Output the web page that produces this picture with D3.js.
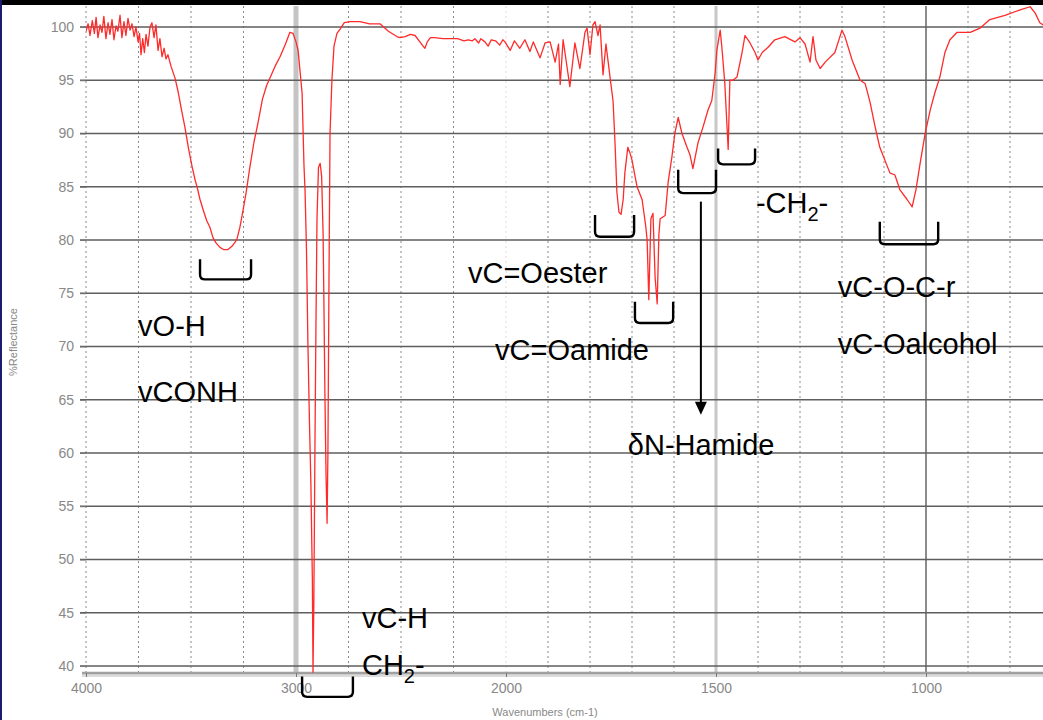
<!DOCTYPE html>
<head>
    <meta charset="utf-8">
    <script src="https://d3js.org/d3.v7.min.js"></script>
</head>

<body style="margin:0; background: white">
    <div id="my_dataviz"></div>

    <script>
        // spectrum: wavenumber (cm-1) and %Reflectance
        const wavenumber = [
            4000, 3990, 3981, 3970, 3960, 3952, 3943, 3933, 3924, 3915, 3905, 3895, 3886, 3876, 3867, 3857,
            3848, 3838, 3829, 3819, 3810, 3800, 3790, 3781, 3771, 3762, 3752, 3745, 3738, 3730, 3722, 3714,
            3705, 3695, 3686, 3676, 3667, 3657, 3648, 3638, 3628, 3619, 3610, 3595, 3576, 3560, 3545, 3529,
            3512, 3495, 3480, 3470, 3457, 3440, 3425, 3410, 3395, 3380, 3362, 3345, 3324, 3305, 3290, 3281,
            3267, 3252, 3238, 3220, 3200, 3181, 3160, 3140, 3124, 3100, 3076, 3050, 3029, 3014, 3000, 2990,
            2971, 2962, 2957, 2950, 2943, 2936, 2929, 2922, 2919, 2915, 2910, 2905, 2900, 2893, 2885, 2878,
            2871, 2867, 2862, 2857, 2852, 2848, 2843, 2838, 2829, 2819, 2805, 2790, 2770, 2743, 2720, 2695,
            2650, 2600, 2560, 2520, 2505, 2480, 2455, 2433, 2410, 2395, 2386, 2375, 2360, 2340, 2300, 2267,
            2230, 2200, 2180, 2160, 2148, 2130, 2120, 2100, 2085, 2070, 2050, 2030, 2015, 2005,
            1990, 1980, 1967, 1955, 1943, 1935, 1919, 1907, 1895, 1883, 1875, 1871, 1864, 1848, 1836, 1824,
            1812, 1807, 1800, 1793, 1788, 1781, 1776, 1769, 1762, 1752, 1745, 1740, 1736, 1731, 1726, 1721,
            1717, 1710, 1705, 1700, 1688, 1676, 1667, 1664, 1660, 1655, 1650, 1645, 1640, 1636, 1633, 1621,
            1614, 1605, 1598, 1590, 1581, 1569, 1562, 1555, 1543, 1531, 1519, 1510, 1502, 1498, 1490, 1486,
            1479, 1471, 1467, 1460, 1450, 1438, 1431, 1419, 1407, 1400, 1390, 1376, 1360, 1336, 1312, 1300,
            1288, 1276, 1269, 1262, 1252, 1240, 1217, 1200, 1193, 1176, 1157, 1145, 1133, 1121, 1110, 1086,
            1074, 1062, 1045, 1033, 1024, 1014, 1002, 990, 979, 967, 955, 943, 926, 895, 871, 848,
            812, 776, 752, 740, 729, 721
        ];
        const reflectance = [
            99.6, 100.3, 99.2, 100.6, 99.4, 100.9, 99.0, 100.2, 99.5, 101.0, 98.9, 100.4, 99.3, 100.7, 98.8, 100.1,
            99.6, 101.1, 99.0, 100.5, 99.2, 100.8, 99.7, 100.3, 99.1, 100.0, 98.6, 99.4, 97.4, 98.9, 97.6, 99.3,
            98.2, 100.0, 100.4, 99.0, 100.2, 97.8, 98.9, 97.2, 98.0, 97.0, 97.4, 96.3, 95.2, 93.8, 92.2, 90.6,
            88.6, 86.9, 85.6, 84.9, 83.8, 82.7, 81.8, 81.2, 80.2, 79.7, 79.3, 79.1, 79.1, 79.4, 79.8, 80.1,
            81.2, 82.8, 84.4, 86.8, 89.2, 91.0, 93.2, 94.5, 95.2, 96.3, 97.2, 98.4, 99.5, 99.4, 98.6, 97.8,
            93.8, 87.0, 84.7, 79.0, 70.0, 63.0, 57.0, 48.0, 39.4, 46.0, 60.0, 72.0, 82.0, 86.8, 87.2, 86.0,
            80.6, 74.0, 65.0, 58.0, 53.4, 60.0, 76.0, 90.0, 95.0, 98.2, 99.4, 99.8, 100.4, 100.5, 100.5, 100.5,
            100.3, 100.3, 99.6, 99.1, 99.0, 99.1, 99.3, 99.2, 98.6, 98.2, 98.0, 98.6, 99.0, 99.0, 98.9, 98.9,
            98.9, 98.7, 98.8, 98.7, 98.9, 98.5, 98.9, 98.6, 98.2, 98.8, 98.7, 98.3, 98.8, 98.6,
            97.8, 98.7, 98.0, 98.8, 97.7, 98.6, 97.1, 98.5, 98.6, 96.7, 98.4, 94.6, 98.8, 94.4, 98.5, 96.1,
            99.5, 99.9, 97.4, 100.2, 100.5, 99.2, 100.2, 95.5, 98.4, 95.2, 93.0, 88.7, 84.5, 82.6, 82.4, 83.8,
            86.3, 88.7, 88.2, 87.5, 85.0, 83.8, 81.2, 80.0, 74.4, 82.0, 82.5, 76.5, 74.0, 80.5, 82.0, 82.3,
            85.4, 87.8, 90.0, 91.5, 90.0, 88.7, 88.0, 86.7, 89.1, 90.6, 92.2, 93.1, 95.7, 97.8, 99.7, 98.1,
            94.7, 88.5, 95.0, 95.0, 95.3, 97.6, 99.2, 98.5, 97.6, 96.9, 97.6, 98.1, 98.8, 99.1, 98.6, 99.0,
            98.4, 96.7, 99.1, 96.9, 96.1, 96.7, 97.6, 99.7, 99.1, 96.9, 95.0, 94.7, 92.9, 90.6, 88.7, 86.3,
            86.1, 84.7, 83.8, 83.1, 84.7, 87.2, 90.0, 92.2, 93.8, 95.3, 97.6, 98.8, 99.5, 99.5, 99.9, 100.7,
            101.1, 101.6, 101.9, 101.3, 100.4, 100.2
        ];

        // axis ticks and grid
        const yTicks = [40, 45, 50, 55, 60, 65, 70, 75, 80, 85, 90, 95, 100];
        const xLabelTicks = [4000, 3000, 2000, 1500, 1000];
        const xDottedGrid = [4000, 3750, 3500, 3250, 2750, 2500, 2250,
            1900, 1800, 1700, 1600, 1400, 1300, 1200, 1100, 900, 800];

        // annotations (text at wavenumber / %R, "_" marks a subscript)
        const labelText = ["vO-H", "vCONH", "vC-H", "CH_2_-", "vC=Oester", "vC=Oamide",
            "\u03b4N-Hamide", "-CH_2_-", "vC-O-C-r", "vC-Oalcohol"];
        const labelWn = [3752, 3752, 2686, 2686, 2181, 2052, 1710, 1405, 1210, 1210];
        const labelR = [71.0, 64.8, 43.6, 39.15, 75.96, 68.73, 59.81, 82.54, 74.65, 69.3];

        // brackets under the bands
        const bracketFrom = [3457, 2971, 1788, 1693, 1590, 1495, 1110];
        const bracketTo = [3214, 2729, 1695, 1602, 1500, 1407, 971];
        const bracketTop = [78.2, 39.0, 82.35, 74.2, 86.6, 88.6, 81.7];
        const bracketBottom = [76.3, 37.1, 80.3, 72.2, 84.4, 87.1, 79.6];

        // arrow from the N-H bracket down to its label
        const arrowWn = 1536, arrowFrom = 83.6, arrowTo = 63.6;

        var W = 1043, H = 720;
        var svg = d3.select("#my_dataviz")
            .append("svg")
            .attr("width", W)
            .attr("height", H)
            .style("display", "block");

        var x = d3.scaleLinear().domain([4000, 2000, 720]).range([86, 506, 1043.6]);
        var y = d3.scaleLinear().domain([39.34, 101.97]).range([673, 6]);

        // frame bits of the screenshot
        svg.append("rect").attr("x", 0).attr("y", 0).attr("width", W).attr("height", 5).attr("fill", "#000");
        svg.append("rect").attr("x", 0).attr("y", 0).attr("width", 2).attr("height", H).attr("fill", "#1c1c6e");

        // dotted vertical grid
        svg.selectAll(".vgrid")
            .data(xDottedGrid)
            .enter().append("line")
            .attr("x1", d => x(d)).attr("x2", d => x(d))
            .attr("y1", 6).attr("y2", 673)
            .attr("stroke", "#8a8a8a")
            .attr("stroke-width", 1)
            .attr("stroke-dasharray", "2,3");

        // special verticals
        svg.append("line").attr("x1", x(2000)).attr("x2", x(2000)).attr("y1", 6).attr("y2", 673)
            .attr("stroke", "#e6d6dc").attr("stroke-dasharray", "2,3");
        svg.append("line").attr("x1", x(3000)).attr("x2", x(3000)).attr("y1", 6).attr("y2", 673)
            .attr("stroke", "#c4c4c4").attr("stroke-width", 5);
        svg.append("line").attr("x1", x(1500)).attr("x2", x(1500)).attr("y1", 6).attr("y2", 673)
            .attr("stroke", "#c8c8c8").attr("stroke-width", 3);
        svg.append("line").attr("x1", x(1000)).attr("x2", x(1000)).attr("y1", 6).attr("y2", 673)
            .attr("stroke", "#666").attr("stroke-width", 1.5);

        // horizontal grid
        svg.selectAll(".hgrid")
            .data(yTicks)
            .enter().append("line")
            .attr("x1", 80).attr("x2", W)
            .attr("y1", d => y(d)).attr("y2", d => y(d))
            .attr("stroke", "#5e5e5e")
            .attr("stroke-width", 1.6);

        // y axis labels
        var yAxis = svg.append("g")
            .attr("transform", "translate(86,0)")
            .call(d3.axisLeft(y).tickValues(yTicks).tickSize(6).tickPadding(6));
        yAxis.select(".domain").remove();
        yAxis.selectAll("line").attr("stroke", "#777");
        yAxis.selectAll("text")
            .attr("fill", "#888")
            .style("font-family", "Liberation Sans, Arial, sans-serif")
            .style("font-size", "14px");

        // bottom axis
        svg.append("rect").attr("x", 82).attr("y", 673).attr("width", W - 82).attr("height", 4).attr("fill", "#dcdcdc");
        svg.append("line").attr("x1", 82).attr("x2", W).attr("y1", 673).attr("y2", 673)
            .attr("stroke", "#a0a0a0").attr("stroke-width", 2.5);
        var xAxis = svg.append("g")
            .attr("transform", "translate(0,673)")
            .call(d3.axisBottom(x).tickValues(xLabelTicks).tickSize(4).tickPadding(6).tickFormat(d3.format("d")));
        xAxis.select(".domain").remove();
        xAxis.selectAll("line").attr("stroke", "#777");
        xAxis.selectAll("text")
            .attr("fill", "#888")
            .style("font-family", "Liberation Sans, Arial, sans-serif")
            .style("font-size", "14px");

        svg.append("text")
            .attr("x", 545).attr("y", 716)
            .attr("text-anchor", "middle")
            .attr("fill", "#888")
            .style("font-family", "Liberation Sans, Arial, sans-serif")
            .style("font-size", "11px")
            .text("Wavenumbers (cm-1)");

        svg.append("text")
            .attr("transform", "translate(17,342) rotate(-90)")
            .attr("text-anchor", "middle")
            .attr("fill", "#888")
            .style("font-family", "Liberation Sans, Arial, sans-serif")
            .style("font-size", "11px")
            .text("%Reflectance");

        // spectrum
        svg.append("clipPath").attr("id", "plotclip")
            .append("rect").attr("x", 86).attr("y", 6).attr("width", W - 86).attr("height", 668);

        var line = d3.line()
            .x(d => x(d[0]))
            .y(d => y(d[1]));

        svg.append("path")
            .datum(wavenumber.map((w, i) => [w, reflectance[i]]))
            .attr("clip-path", "url(#plotclip)")
            .attr("d", line)
            .attr("fill", "none")
            .attr("stroke", "#ff2a2a")
            .attr("stroke-width", 1.3)
            .attr("stroke-linejoin", "round");

        // brackets
        svg.selectAll(".bracket")
            .data(bracketFrom)
            .enter().append("path")
            .attr("d", function (d, i) {
                var x1 = x(d), x2 = x(bracketTo[i]), yt = y(bracketTop[i]), yb = y(bracketBottom[i]), r = 5;
                return "M" + x1 + "," + yt + "L" + x1 + "," + (yb - r) + "Q" + x1 + "," + yb + " " + (x1 + r) + "," + yb +
                    "L" + (x2 - r) + "," + yb + "Q" + x2 + "," + yb + " " + x2 + "," + (yb - r) + "L" + x2 + "," + yt;
            })
            .attr("fill", "none")
            .attr("stroke", "#000")
            .attr("stroke-width", 2.4);

        // arrow
        svg.append("line")
            .attr("x1", x(arrowWn)).attr("x2", x(arrowWn))
            .attr("y1", y(arrowFrom)).attr("y2", y(arrowTo) - 12)
            .attr("stroke", "#000").attr("stroke-width", 2);
        svg.append("path")
            .attr("d", "M" + (x(arrowWn) - 6) + "," + (y(arrowTo) - 13) + "L" + (x(arrowWn) + 6) + "," + (y(arrowTo) - 13) +
                "L" + x(arrowWn) + "," + y(arrowTo) + "Z")
            .attr("fill", "#000");

        // labels
        svg.selectAll(".label")
            .data(labelText)
            .enter().append("text")
            .attr("x", (d, i) => x(labelWn[i]))
            .attr("y", (d, i) => y(labelR[i]))
            .attr("fill", "#000")
            .style("font-family", "Liberation Sans, Arial, sans-serif")
            .style("font-size", "29px")
            .each(function (d) {
                var parts = d.split("_");
                var t = d3.select(this);
                parts.forEach(function (p, k) {
                    if (k % 2 === 1) {
                        t.append("tspan").attr("dy", 8).style("font-size", "20px").text(p);
                    } else {
                        t.append("tspan").attr("dy", k > 0 ? -8 : 0).text(p);
                    }
                });
            });
    </script>
</body>

</html>
